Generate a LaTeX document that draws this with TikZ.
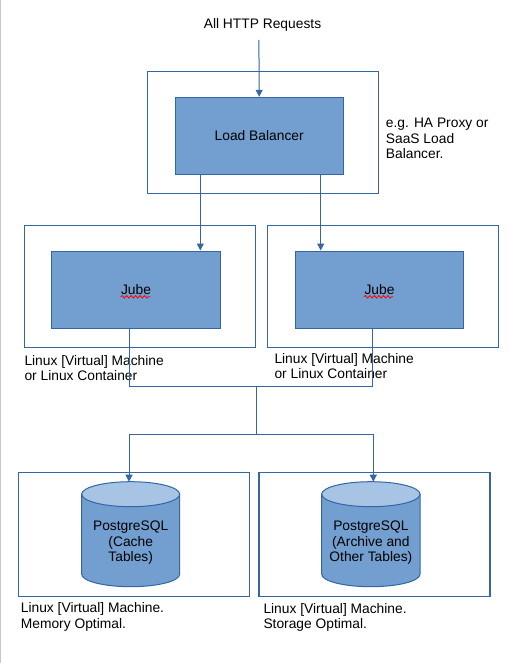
\documentclass[tikz,border=0pt]{standalone}
\usepackage{fontspec}
\setmainfont{Liberation Sans}
\usetikzlibrary{arrows.meta,decorations.pathmorphing}
\definecolor{boxfill}{HTML}{729FCF}
\definecolor{boxline}{HTML}{3465A4}
\definecolor{cyltop}{HTML}{A7C4E5}
\definecolor{pageedge}{HTML}{C6C6C6}
\newcommand{\lines}[2][l]{\begin{tabular}[t]{@{}#1@{}}#2\end{tabular}}
\begin{document}
\begin{tikzpicture}[x=1pt,y=-1pt,
  font=\fontsize{13.8}{15.5}\selectfont,
  frame/.style={draw=boxline, line width=0.9pt, inner sep=0pt},
  block/.style={draw=boxline, fill=boxfill, line width=1pt, inner sep=0pt},
  link/.style={draw=boxline, line width=1pt},
  tip/.style={-{Triangle[length=7pt,width=7pt]}},
  lbl/.style={anchor=base west, inner sep=0pt},
  squiggle/.style={draw=red, line width=0.8pt, decorate, decoration={snake, amplitude=1.3pt, segment length=4.5pt}},
]
\useasboundingbox (0,0) rectangle (510,663);
\fill[white] (0,0) rectangle (510,663);
\draw[pageedge, line width=1.2pt] (0.8,0) -- (0.8,663);

% top text and load balancer
\node[anchor=base, inner sep=0pt] (http) at (262.5,28.3) {All HTTP Requests};
\coordinate (in) at (258.9,40);
\node[frame, minimum width=231pt, minimum height=121.6pt] (lbouter) at (262.5,132.5) {};
\node[block, minimum width=168.3pt, minimum height=77pt] (lb) at (259.2,135.8) {Load Balancer};
\node[lbl] (note) at (385.7,127.7) {\lines{e.g. HA Proxy or\\SaaS Load\\Balancer.}};

% Jube machines
\node[frame, minimum width=231pt, minimum height=121.6pt] (m1) at (139.5,286.5) {};
\node[block, minimum width=168.6pt, minimum height=77.3pt] (jube1) at (136,289.65) {Jube};
\node[frame, minimum width=231pt, minimum height=121.6pt] (m2) at (382.8,286.5) {};
\node[block, minimum width=168.4pt, minimum height=77.3pt] (jube2) at (379.5,289.65) {Jube};
\draw[squiggle] (120.7,296.8) -- (150.3,296.8);
\draw[squiggle] (364,296.8) -- (393,296.8);
\node[lbl] (m1lbl) at (24.3,365) {\lines{Linux [Virtual] Machine\\or Linux Container}};
\node[lbl] (m2lbl) at (274.3,363.3) {\lines{Linux [Virtual] Machine\\or Linux Container}};

% database machines
\node[frame, minimum width=231pt, minimum height=124pt] (d1) at (133.8,534.3) {};
\node[frame, line width=1.6pt, minimum width=231pt, minimum height=124pt] (d2) at (374.5,534.3) {};

% cylinders
\fill[boxfill, draw=boxline, line width=1pt] (81.7,494.2) -- (81.7,574.2)
  arc[start angle=180, end angle=360, x radius=49pt, y radius=12.5pt] -- (179.7,494.2) -- cycle;
\draw[boxline, fill=cyltop, line width=1pt] (130.7,494.2) ellipse [x radius=49pt, y radius=12.5pt];
\fill[boxfill, draw=boxline, line width=1pt] (321.7,494.2) -- (321.7,574.2)
  arc[start angle=180, end angle=360, x radius=49.15pt, y radius=12.5pt] -- (420,494.2) -- cycle;
\draw[boxline, fill=cyltop, line width=1pt] (370.85,494.2) ellipse [x radius=49.15pt, y radius=12.5pt];
\coordinate (cyl1top) at (129,481.7);
\coordinate (cyl2top) at (373.3,481.7);
\node[anchor=base, inner sep=0pt] (db1) at (130.7,530.7) {\lines[c]{PostgreSQL\\(Cache\\Tables)}};
\node[anchor=base, inner sep=0pt] (db2) at (370.85,530.7) {\lines[c]{PostgreSQL\\(Archive and\\Other Tables)}};
\node[lbl] (d1lbl) at (20.7,612.7) {\lines{Linux [Virtual] Machine.\\Memory Optimal.}};
\node[lbl] (d2lbl) at (263.3,613.3) {\lines{Linux [Virtual] Machine.\\Storage Optimal.}};

% connectors
\coordinate (c1) at (200.3,0);
\coordinate (c2) at (320.7,0);
\coordinate (j1) at (129.3,0);
\coordinate (j2) at (372.3,0);
\coordinate (hub) at (256.3,386.7);
\coordinate (split) at (256.3,434);
\draw[link,tip] (in) -- (lb.north);
\draw[link,tip] (lb.south -| c1) -- (jube1.north -| c1);
\draw[link,tip] (lb.south -| c2) -- (jube2.north -| c2);
\draw[link] (jube1.south -| j1) |- (hub) -| (jube2.south -| j2);
\draw[link] (hub) -- (split);
\draw[link,tip] (split) -| (cyl1top);
\draw[link,tip] (split) -| (cyl2top);
\end{tikzpicture}
\end{document}
